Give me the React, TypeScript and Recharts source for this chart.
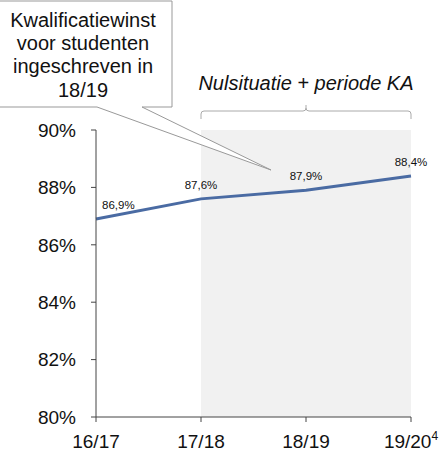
import { LineChart, Line, XAxis, YAxis, ReferenceArea, LabelList } from "recharts";

// Schooljaren en kwalificatiewinst (%)
const years = ["16/17", "17/18", "18/19", "19/20"];
const values = [86.9, 87.6, 87.9, 88.4];
const yTicks = [80, 82, 84, 86, 88, 90];

const data = years.map((year, i) => ({ year, value: values[i] }));

const FONT = "Liberation Sans, Arial, sans-serif";
const LINE_COLOR = "#4a6ba3";

const XTick = ({ x, y, payload }: any) => (
    <text x={x} y={y} dy={26} textAnchor="middle" fontSize={19} fontFamily={FONT} fill="#111">
        {payload.value}
        {payload.value === "19/20" && (
            <tspan dy={-8} fontSize={12}>
                4
            </tspan>
        )}
    </text>
);

const PointLabel = ({ x, y, value, index }: any) => {
    const first = index === 0;
    return (
        <text
            x={first ? x + 6 : x}
            y={y - 10}
            textAnchor={first ? "start" : "middle"}
            fontSize={11.5}
            fontFamily={FONT}
            fill="#111"
        >
            {value.toFixed(1).replace(".", ",")}%
        </text>
    );
};

export default function App() {
    return (
        <div style={{ position: "absolute", left: 0, top: 0, width: 443, height: 457, background: "#fff" }}>
            <LineChart
                width={443}
                height={457}
                data={data}
                margin={{ top: 130, right: 32, left: 0, bottom: 0 }}
            >
                <ReferenceArea
                    x1="17/18"
                    x2="19/20"
                    y1={80}
                    y2={90}
                    fill="#f1f1f1"
                    fillOpacity={1}
                    stroke="none"
                />
                <XAxis
                    dataKey="year"
                    height={40}
                    stroke="#444"
                    tickSize={5}
                    tickMargin={0}
                    tick={<XTick />}
                    interval={0}
                />
                <YAxis
                    domain={[80, 90]}
                    ticks={yTicks}
                    width={96}
                    stroke="#444"
                    tickSize={5}
                    tickMargin={15}
                    tickFormatter={(v) => `${v}%`}
                    tick={{ fontSize: 19, fontFamily: FONT, fill: "#111" }}
                    interval={0}
                />
                <Line
                    type="linear"
                    dataKey="value"
                    stroke={LINE_COLOR}
                    strokeWidth={3}
                    dot={false}
                    isAnimationActive={false}
                >
                    <LabelList dataKey="value" content={<PointLabel />} />
                </Line>
            </LineChart>
            <svg
                width={443}
                height={457}
                style={{ position: "absolute", left: 0, top: 0, pointerEvents: "none" }}
            >
                {/* accolade boven de periode */}
                <path
                    d="M201 119 V114 Q201 111 204 111 H303 Q306 111 306 108 V105 M306 108 Q306 111 309 111 H408 Q411 111 411 114 V119"
                    fill="none"
                    stroke="#aaa"
                    strokeWidth={1}
                />
                <text x={306} y={90} textAnchor="middle" fontSize={20} fontStyle="italic" fontFamily={FONT} fill="#111">
                    Nulsituatie + periode KA
                </text>
                {/* tekstballon */}
                <path
                    d="M-2 1 H172 V107 H142 L271 170 L97 107 H-2 Z"
                    fill="#fff"
                    stroke="#999"
                    strokeWidth={1}
                />
                <text textAnchor="middle" fontSize={20} fontFamily={FONT} fill="#111">
                    <tspan x={83} y={27}>Kwalificatiewinst</tspan>
                    <tspan x={83} y={50}>voor studenten</tspan>
                    <tspan x={83} y={73}>ingeschreven in</tspan>
                    <tspan x={83} y={97}>18/19</tspan>
                </text>
            </svg>
        </div>
    );
}
